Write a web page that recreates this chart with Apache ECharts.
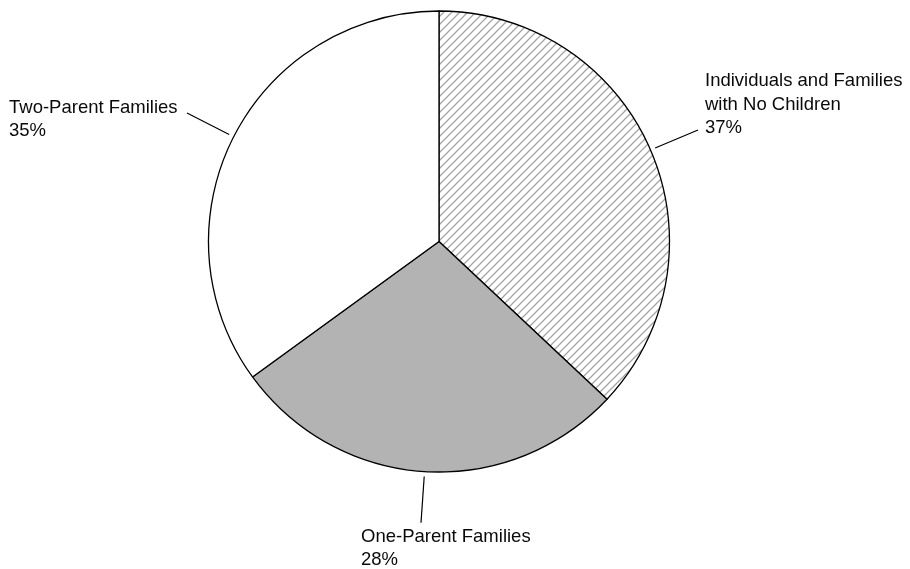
<!DOCTYPE html>
<html>
<head>
<meta charset="utf-8">
<style>
html,body{margin:0;padding:0;background:#fff;}
#chart{width:910px;height:569px;}
</style>
<script src="https://cdn.jsdelivr.net/npm/echarts@6/dist/echarts.min.js"></script>
</head>
<body>
<div id="chart"></div>
<script>
// Data
const categories = ["Individuals and Families\nwith No Children", "One-Parent Families", "Two-Parent Families"];
const values = [37, 28, 35];

// Layout
const CX = 439, CY = 241.5, R = 230.5;
// label text top-left positions and leader-line end points
const labelPos = [
  {x: 705, y: 69.5, end: [698, 130]},
  {x: 361, y: 525, end: [421, 522.7]},
  {x: 9, y: 96, end: [187, 113]}
];

// hatch pattern
const pc = document.createElement('canvas');
pc.width = 8; pc.height = 8;
const g = pc.getContext('2d');
g.fillStyle = '#ffffff';
g.fillRect(0, 0, 8, 8);
g.strokeStyle = '#a4a4a4';
g.lineWidth = 1.25;
g.beginPath();
g.moveTo(-1, 9); g.lineTo(9, -1);
g.moveTo(-5, 5); g.lineTo(5, -5);
g.moveTo(3, 13); g.lineTo(13, 3);
g.stroke();

const fills = [{image: pc, repeat: 'repeat'}, '#b3b3b3', '#ffffff'];

const total = values.reduce((a, b) => a + b, 0);
const midAngles = [];
let acc = 0;
values.forEach(v => { midAngles.push((acc + v / 2) / total * 2 * Math.PI); acc += v; });

const chart = echarts.init(document.getElementById('chart'), null, {renderer: 'canvas'});
chart.setOption({
  animation: false,
  backgroundColor: '#ffffff',
  series: [{
    type: 'pie',
    center: [CX, CY],
    radius: R,
    startAngle: 90,
    clockwise: true,
    silent: true,
    data: values.map((v, i) => ({
      value: v,
      name: categories[i],
      itemStyle: {color: fills[i], borderColor: '#000', borderWidth: 1.3}
    })),
    label: {
      show: true,
      formatter: p => p.name + '\n' + p.value + '%',
      fontFamily: 'Liberation Sans',
      fontSize: 18.5,
      lineHeight: 23.5,
      color: '#0a0a0a',
      align: 'left'
    },
    labelLine: {show: true, lineStyle: {color: '#000', width: 1.2}, length: 10, length2: 10},
    labelLayout: function (params) {
      const i = params.dataIndex;
      const a = midAngles[i];
      const s = [CX + (R + 5) * Math.sin(a), CY - (R + 5) * Math.cos(a)];
      const lp = labelPos[i];
      return {
        x: lp.x, y: lp.y, align: 'left', verticalAlign: 'top',
        labelLinePoints: [s, lp.end, lp.end]
      };
    }
  }]
});
</script>
</body>
</html>
